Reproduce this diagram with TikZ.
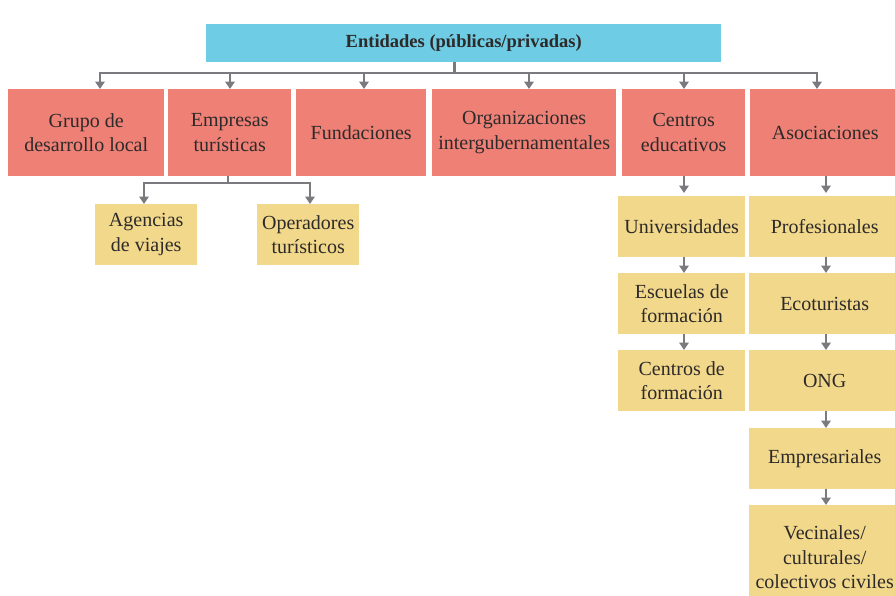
\documentclass[tikz,border=0pt]{standalone}
\usepackage{fontspec}
\setmainfont{Liberation Serif}
\usetikzlibrary{arrows.meta}
\definecolor{bluec}{RGB}{110,204,228}
\definecolor{redc}{RGB}{239,128,118}
\definecolor{yelc}{RGB}{242,216,138}
\definecolor{linec}{RGB}{122,123,126}
\definecolor{txtc}{RGB}{45,42,42}
\tikzset{
  base/.style={anchor=north west, inner sep=0pt, align=center, text=txtc,
    font=\fontsize{20}{24.5}\selectfont},
  topbox/.style={base, fill=bluec, font=\bfseries\fontsize{18.5}{22}\selectfont},
  redbox/.style={base, fill=redc},
  yelbox/.style={base, fill=yelc},
  conn/.style={draw=linec, line width=2.6pt},
  arr/.style={conn, -{Triangle[width=9.5pt,length=7.5pt]}},
}
\begin{document}
\begin{tikzpicture}[x=1pt,y=1pt]
\useasboundingbox (0,0) rectangle (895,-595);
% top
\node[topbox, minimum width=515pt, minimum height=38pt] (top) at (206,-24) {Entidades (públicas/privadas)};
% red boxes
\node[redbox, minimum width=156pt, minimum height=87pt] (g) at (8,-89) {Grupo de\\desarrollo local};
\node[redbox, minimum width=123pt, minimum height=87pt] (e) at (168,-89) {Empresas\\turísticas};
\node[redbox, minimum width=130pt, minimum height=87pt] (f) at (296,-89) {Fundaciones};
\node[redbox, minimum width=184pt, minimum height=87pt] (o) at (432,-89) {Organizaciones\\intergubernamentales};
\node[redbox, minimum width=123pt, minimum height=87pt] (c) at (622,-89) {Centros\\educativos};
\node[redbox, minimum width=150pt, minimum height=87pt] (a) at (750,-89) {Asociaciones};
% yellow boxes
\node[yelbox, minimum width=102pt, minimum height=61pt] (ag) at (95,-204) {Agencias\\de viajes};
\node[yelbox, minimum width=102pt, minimum height=61pt] (op) at (257,-204) {Operadores\\turísticos};
\node[yelbox, minimum width=127pt, minimum height=61pt] (un) at (618,-196) {Universidades};
\node[yelbox, minimum width=127pt, minimum height=61pt] (es) at (618,-273) {Escuelas de\\formación};
\node[yelbox, minimum width=127pt, minimum height=61pt] (cf) at (618,-350) {Centros de\\formación};
\node[yelbox, minimum width=151pt, minimum height=61pt] (pr) at (749,-196) {Profesionales};
\node[yelbox, minimum width=151pt, minimum height=61pt] (ec) at (749,-273) {Ecoturistas};
\node[yelbox, minimum width=151pt, minimum height=61pt] (ong) at (749,-350) {ONG};
\node[yelbox, minimum width=151pt, minimum height=61pt] (em) at (749,-428) {Empresariales};
\node[yelbox, minimum width=151pt, minimum height=104pt] (ve) at (749,-505) {Vecinales/\\culturales/\\colectivos civiles};
% main bus
\coordinate (stem) at ([xshift=-9.5pt]top.south);
\coordinate (busL) at (100,-73);
\coordinate (busR) at (817,-73);
\draw[conn] (stem) -- (stem |- busL);
\draw[conn, line cap=rect] (busL) -- (busR);
\draw[arr] (busL) -- (busL |- g.north);
\draw[arr] (230,-73) -- (230,-89 |- e.north);
\draw[arr] (364,-73) -- (364,-89 |- f.north);
\draw[arr] (529,-73) -- (529,-89 |- o.north);
\draw[arr] (684,-73) -- (684,-89 |- c.north);
\draw[arr] (busR) -- (busR |- a.north);
% empresas sub
\coordinate (ej) at (228,-183);
\draw[conn] (e.south -| ej) -- (ej);
\draw[conn, line cap=rect] (144,-183) -- (310,-183);
\draw[arr] (144,-183) -- (144,-183 |- ag.north);
\draw[arr] (310,-183) -- (310,-183 |- op.north);
% centros column
\draw[arr, shorten >=3pt] (684,-176 |- c.south) -- (684,-196 |- un.north);
\draw[arr] (684,-257 |- un.south) -- (684,-273 |- es.north);
\draw[arr] (684,-334 |- es.south) -- (684,-350 |- cf.north);
% asociaciones column
\draw[arr, shorten >=3pt] (826,-176 |- a.south) -- (826,-196 |- pr.north);
\draw[arr] (826,-257 |- pr.south) -- (826,-273 |- ec.north);
\draw[arr] (826,-334 |- ec.south) -- (826,-350 |- ong.north);
\draw[arr] (826,-411 |- ong.south) -- (826,-428 |- em.north);
\draw[arr] (826,-489 |- em.south) -- (826,-505 |- ve.north);
\end{tikzpicture}
\end{document}
